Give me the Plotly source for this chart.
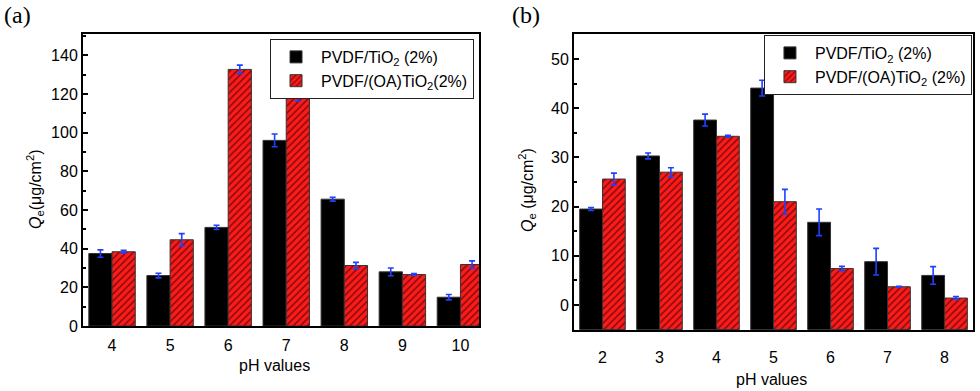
import plotly.graph_objects as go

# panel (a)
ph_a = [4, 5, 6, 7, 8, 9, 10]
tio2_a = [37.5, 26.1, 51.0, 96.0, 65.6, 28.0, 14.9]
tio2_a_err = [1.9, 1.2, 1.1, 3.3, 1.0, 2.0, 1.4]
oa_a = [38.4, 44.6, 132.7, 119.0, 31.3, 26.6, 31.8]
oa_a_err = [0.8, 3.2, 2.2, 2.6, 1.6, 0.5, 1.9]

# panel (b)
ph_b = [2, 3, 4, 5, 6, 7, 8]
tio2_b = [19.5, 30.3, 37.6, 44.1, 16.8, 8.8, 6.0]
tio2_b_err = [0.3, 0.6, 1.2, 1.6, 2.7, 2.7, 1.8]
oa_b = [25.6, 27.0, 34.3, 21.0, 7.4, 3.7, 1.4]
oa_b_err = [1.2, 0.9, 0.2, 2.5, 0.45, 0.1, 0.3]

base_b = -5  # bars in (b) start at bottom of axis

FONT = "Liberation Sans, Arial, sans-serif"
SERIF = "Liberation Serif, Times New Roman, serif"
RED = "#ff1a1a"
ERR = "#2040ff"

def err(vals):
    return dict(type="data", array=vals, color=ERR, thickness=1.6, width=3)

black_marker = dict(color="black", line=dict(color="#333333", width=1))
red_marker = dict(color=RED, line=dict(color="#333333", width=1),
                  pattern=dict(shape="/", fgcolor="black", size=5, solidity=0.3))

fig = go.Figure()

fig.add_trace(go.Bar(x=ph_a, y=tio2_a, error_y=err(tio2_a_err), marker=black_marker,
                     name="PVDF/TiO<sub>2</sub> (2%)", xaxis="x", yaxis="y", legend="legend",
                     offsetgroup="1"))
fig.add_trace(go.Bar(x=ph_a, y=oa_a, error_y=err(oa_a_err), marker=red_marker,
                     name="PVDF/(OA)TiO<sub>2</sub>(2%)", xaxis="x", yaxis="y", legend="legend",
                     offsetgroup="2"))

fig.add_trace(go.Bar(x=ph_b, y=[v - base_b for v in tio2_b], base=base_b,
                     error_y=err(tio2_b_err), marker=black_marker,
                     name="PVDF/TiO<sub>2</sub> (2%)", xaxis="x2", yaxis="y2", legend="legend2",
                     offsetgroup="1"))
fig.add_trace(go.Bar(x=ph_b, y=[v - base_b for v in oa_b], base=base_b,
                     error_y=err(oa_b_err), marker=red_marker,
                     name="PVDF/(OA)TiO<sub>2</sub> (2%)", xaxis="x2", yaxis="y2", legend="legend2",
                     offsetgroup="2"))

axis_common = dict(showline=True, linecolor="black", linewidth=2, mirror=True,
                   showgrid=False, zeroline=False,
                   tickfont=dict(family=FONT, size=16, color="black"))

legend_common = dict(bgcolor="white", bordercolor="#222222", borderwidth=1,
                     font=dict(family=FONT, size=16, color="black"),
                     xanchor="right", yanchor="top", itemwidth=40,
                     tracegroupgap=0, itemclick=False)

def label(text, x, y, size=16, family=FONT, angle=0):
    return dict(text=text, x=x / 980, y=1 - y / 391, xref="paper", yref="paper",
                xanchor="center", yanchor="middle", showarrow=False, textangle=angle,
                font=dict(family=family, size=size, color="black"))

fig.update_layout(
    width=980, height=391,
    margin=dict(l=0, r=0, t=0, b=0),
    paper_bgcolor="white", plot_bgcolor="white",
    barmode="group", bargap=0.2, bargroupgap=0,
    showlegend=True,
    xaxis=dict(axis_common, domain=[0.0847, 0.4888], anchor="y",
               range=[3.5, 10.32], tickvals=ph_a, ticks="", ticklabelstandoff=4,
               automargin=False),
    yaxis=dict(axis_common, domain=[0.1662, 0.913], anchor="x",
               range=[0, 151], dtick=20, tick0=0, ticks="inside", ticklen=5, tickwidth=1.5,
               minor=dict(ticks="inside", ticklen=3, dtick=10, tickwidth=1.5, tickcolor="black"),
               tickcolor="black", automargin=False),
    xaxis2=dict(axis_common, domain=[0.5857, 0.9929], anchor="y2",
                range=[1.5, 8.5], tickvals=ph_b, ticks="", ticklabelstandoff=12,
                automargin=False),
    yaxis2=dict(axis_common, domain=[0.156, 0.913], anchor="x2",
                range=[-5.1, 55.1], tickvals=[0, 10, 20, 30, 40, 50], ticks="inside",
                ticklen=5, tickwidth=1.5, tickcolor="black",
                minor=dict(ticks="inside", ticklen=3, tickvals=[-5, 5, 15, 25, 35, 45, 55],
                           tickwidth=1.5, tickcolor="black"),
                automargin=False),
    legend=dict(legend_common, x=0.4837, y=0.9003),
    legend2=dict(legend_common, x=0.9918, y=0.9105),
    annotations=[
        label("(a)", 17, 15, size=24, family=SERIF),
        label("(b)", 526, 15, size=24, family=SERIF),
        label("<i>Q</i><sub>e</sub>(μg/cm<sup>2</sup>)", 35, 190, angle=-90),
        label("<i>Q</i><sub>e</sub> (μg/cm<sup>2</sup>)", 527, 190, angle=-90),
        label("pH values", 274, 365),
        label("pH values", 771, 379),
    ],
)

# drop the default page margin so the 980x391 figure fills the window exactly
fig.write_html("out.html", config={"displayModeBar": False},
               post_script="document.body.style.margin='0';document.body.style.overflow='hidden';")
